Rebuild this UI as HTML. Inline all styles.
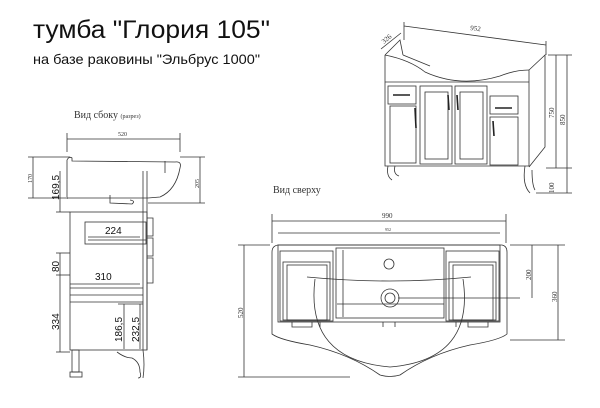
<!DOCTYPE html>
<html><head><meta charset="utf-8"><style>
html,body{margin:0;padding:0;background:#fff;width:600px;height:408px;overflow:hidden}
svg{display:block}
.s{font-family:"Liberation Serif",serif;fill:#333}
.a{font-family:"Liberation Sans",sans-serif;fill:#111}
</style></head><body>
<svg width="600" height="408" viewBox="0 0 600 408" xmlns="http://www.w3.org/2000/svg">
<text x="33" y="38" class="a" font-size="25" textLength="237" lengthAdjust="spacingAndGlyphs">тумба "Глория 105"</text>
<text x="33" y="64" class="a" font-size="14" textLength="227" lengthAdjust="spacingAndGlyphs">на базе раковины "Эльбрус 1000"</text>

<!-- SIDE VIEW -->
<g fill="none" stroke="#333" stroke-width="0.8">
<text x="74" y="118" class="s" font-size="10" stroke="none">Вид сбоку <tspan font-size="6">(разрез)</tspan></text>
<line x1="67" y1="139" x2="180" y2="139"/><line x1="67" y1="133" x2="67" y2="152"/><line x1="180" y1="133" x2="180" y2="152"/>
<text x="118" y="136" class="s" font-size="6" stroke="none">520</text>
<path d="M67 199 L67 160 Q69 156 72 158 L72 161 L175 162 Q182 161 180 168 Q176 190 160 197 L148 198 L67 198"/>
<line x1="165" y1="161" x2="165" y2="173"/>
<path d="M110 195 L110 203 L132 204 Q136 201 130 200"/>
<rect x="70" y="212" width="77" height="138"/>
<line x1="143" y1="171" x2="143" y2="350"/><line x1="147" y1="171" x2="147" y2="350"/>
<rect x="85" y="222" width="61" height="22"/><line x1="88" y1="240" x2="146" y2="240"/>
<path d="M147 218 h6 v18 h-6 M147 238 h6 v18 h-6 M147 258 h6 v25 h-6"/>
<line x1="70" y1="288" x2="143" y2="288"/><line x1="70" y1="295" x2="143" y2="295"/><line x1="70" y1="302" x2="143" y2="302"/>
<rect x="72" y="350" width="7" height="22"/><rect x="70" y="372" width="12" height="5"/>
<path d="M117 352 Q125 358 132 358 Q140 362 140 372 Q142 378 138 378 M143 350 Q145 365 143 378"/>
<line x1="33" y1="157" x2="33" y2="198"/><line x1="28" y1="157" x2="70" y2="157"/><line x1="28" y1="198" x2="66" y2="198"/>
<line x1="60" y1="171" x2="60" y2="212"/><line x1="56" y1="212" x2="70" y2="212"/>
<line x1="200" y1="157" x2="200" y2="203"/><line x1="180" y1="157" x2="205" y2="157"/><line x1="148" y1="203" x2="205" y2="203"/>
<line x1="60" y1="253" x2="60" y2="352"/><line x1="56" y1="253" x2="70" y2="253"/><line x1="56" y1="275" x2="70" y2="275"/><line x1="56" y1="352" x2="70" y2="352"/>
<line x1="70" y1="284" x2="140" y2="284"/>
<line x1="124" y1="304" x2="124" y2="349"/><line x1="140" y1="304" x2="140" y2="349"/><line x1="118" y1="304" x2="143" y2="304"/>
<line x1="88" y1="237" x2="140" y2="237"/>
</g>
<text class="s" font-size="6" transform="translate(32,183) rotate(-90)">170</text>
<text class="a" font-size="10" transform="translate(59,200) rotate(-90)">169,5</text>
<text class="s" font-size="6" transform="translate(199,188) rotate(-90)">205</text>
<text class="a" font-size="10" x="105" y="234">224</text>
<text class="a" font-size="10" transform="translate(59,272) rotate(-90)">80</text>
<text class="a" font-size="10" x="95" y="280">310</text>
<text class="a" font-size="10" transform="translate(59,330) rotate(-90)">334</text>
<text class="a" font-size="10" transform="translate(122,342) rotate(-90)">186,5</text>
<text class="a" font-size="10" transform="translate(139,342) rotate(-90)">232,5</text>

<!-- TOP VIEW -->
<text x="273" y="193" class="s" font-size="10">Вид сверху</text>
<g fill="none" stroke="#333" stroke-width="0.8">
<line x1="272" y1="221" x2="506" y2="221"/><line x1="272" y1="214" x2="272" y2="243"/><line x1="506" y1="214" x2="506" y2="243"/>
<line x1="278" y1="233" x2="500" y2="233"/>
<path d="M278 245 L502 245 Q507 246 507 252 L507 334 Q500 340 470 345 Q430 354 400 375 Q390 378 380 375 Q350 354 310 345 Q280 340 272 334 L272 252 Q272 246 278 245 Z"/>
<rect x="278" y="245" width="222" height="77"/>
<rect x="280" y="251" width="53" height="70"/><rect x="283" y="262" width="47" height="58"/><rect x="287" y="265" width="40" height="55"/>
<rect x="446" y="251" width="53" height="70"/><rect x="449" y="262" width="47" height="58"/><rect x="453" y="265" width="40" height="55"/>
<rect x="336" y="248" width="108" height="70"/>
<path d="M307 277 Q390 285 471 277"/>
<path d="M315 279 Q305 360 390 367 Q475 360 463 279"/>
<circle cx="389" cy="264" r="5"/><circle cx="390" cy="298" r="9"/><circle cx="390" cy="298" r="5"/>
<line x1="343" y1="250" x2="343" y2="317"/><line x1="337" y1="304" x2="444" y2="304"/>
<line x1="398" y1="298" x2="520" y2="298"/>
<line x1="244" y1="245" x2="244" y2="377"/><line x1="238" y1="245" x2="270" y2="245"/><line x1="238" y1="377" x2="350" y2="377"/>
<line x1="532" y1="245" x2="532" y2="298"/><line x1="510" y1="245" x2="565" y2="245"/>
<line x1="558" y1="245" x2="558" y2="340"/><line x1="510" y1="340" x2="565" y2="340"/>
<path d="M292 322 v5 h20 v-5 M320 322 v5 M383 322 v5 M395 322 v5 M456 322 v5 M468 322 v5 h20 v-5"/>
</g>
<text x="382" y="218" class="s" font-size="7">990</text>
<text x="385" y="231" class="s" font-size="4">952</text>
<text class="s" font-size="7" transform="translate(243,318) rotate(-90)">520</text>
<text class="s" font-size="7" transform="translate(531,280) rotate(-90)">200</text>
<text class="s" font-size="7" transform="translate(557,302) rotate(-90)">360</text>

<!-- 3D VIEW -->
<g fill="none" stroke="#333" stroke-width="0.8">
<line x1="404" y1="26" x2="546" y2="45"/><line x1="404" y1="22" x2="404" y2="40"/><line x1="546" y1="41" x2="546" y2="55"/>
<line x1="381" y1="49" x2="401" y2="33"/>
<path d="M385 55 L400 40 L403 55 M385 55 L385 166 L529 166 L529 70 L545 55 L545 147 L529 167"/>
<path d="M385 55 Q410 60 425 72 Q460 88 500 76 Q515 70 529 70"/>
<path d="M403 55 L430 66"/>
<line x1="385" y1="82" x2="529" y2="82"/>
<rect x="388" y="86" width="28" height="18"/><rect x="390" y="106" width="26" height="57"/>
<rect x="420" y="86" width="32" height="78"/><rect x="425" y="92" width="23" height="67"/>
<rect x="455" y="86" width="32" height="78"/><rect x="460" y="92" width="23" height="67"/>
<rect x="490" y="96" width="28" height="18"/><rect x="490" y="117" width="28" height="48"/>
<path d="M388 166 Q386 176 392 180 M395 166 Q393 174 399 176"/>
<path d="M525 166 Q522 185 530 193 M532 170 Q532 185 535 190"/>
<line x1="556" y1="55" x2="556" y2="168"/><line x1="567" y1="55" x2="567" y2="193"/>
<line x1="548" y1="55" x2="572" y2="55"/><line x1="546" y1="168" x2="572" y2="168"/><line x1="536" y1="193" x2="572" y2="193"/>
</g>
<g stroke="#222" stroke-width="1.6">
<line x1="393" y1="95" x2="410" y2="95"/><line x1="415" y1="108" x2="416" y2="128"/>
<line x1="448" y1="95" x2="449" y2="110"/><line x1="457" y1="95" x2="458" y2="110"/>
<line x1="495" y1="108" x2="512" y2="108"/><line x1="493" y1="121" x2="494" y2="136"/>
</g>
<text class="s" font-size="7" transform="translate(470,30) rotate(7)">952</text>
<text class="s" font-size="7" transform="translate(384,44) rotate(-40)">326</text>
<text class="s" font-size="7" transform="translate(554,118) rotate(-90)">750</text>
<text class="s" font-size="7" transform="translate(565,125) rotate(-90)">850</text>
<text class="s" font-size="7" transform="translate(554,193) rotate(-90)">100</text>
</svg>
</body></html>
